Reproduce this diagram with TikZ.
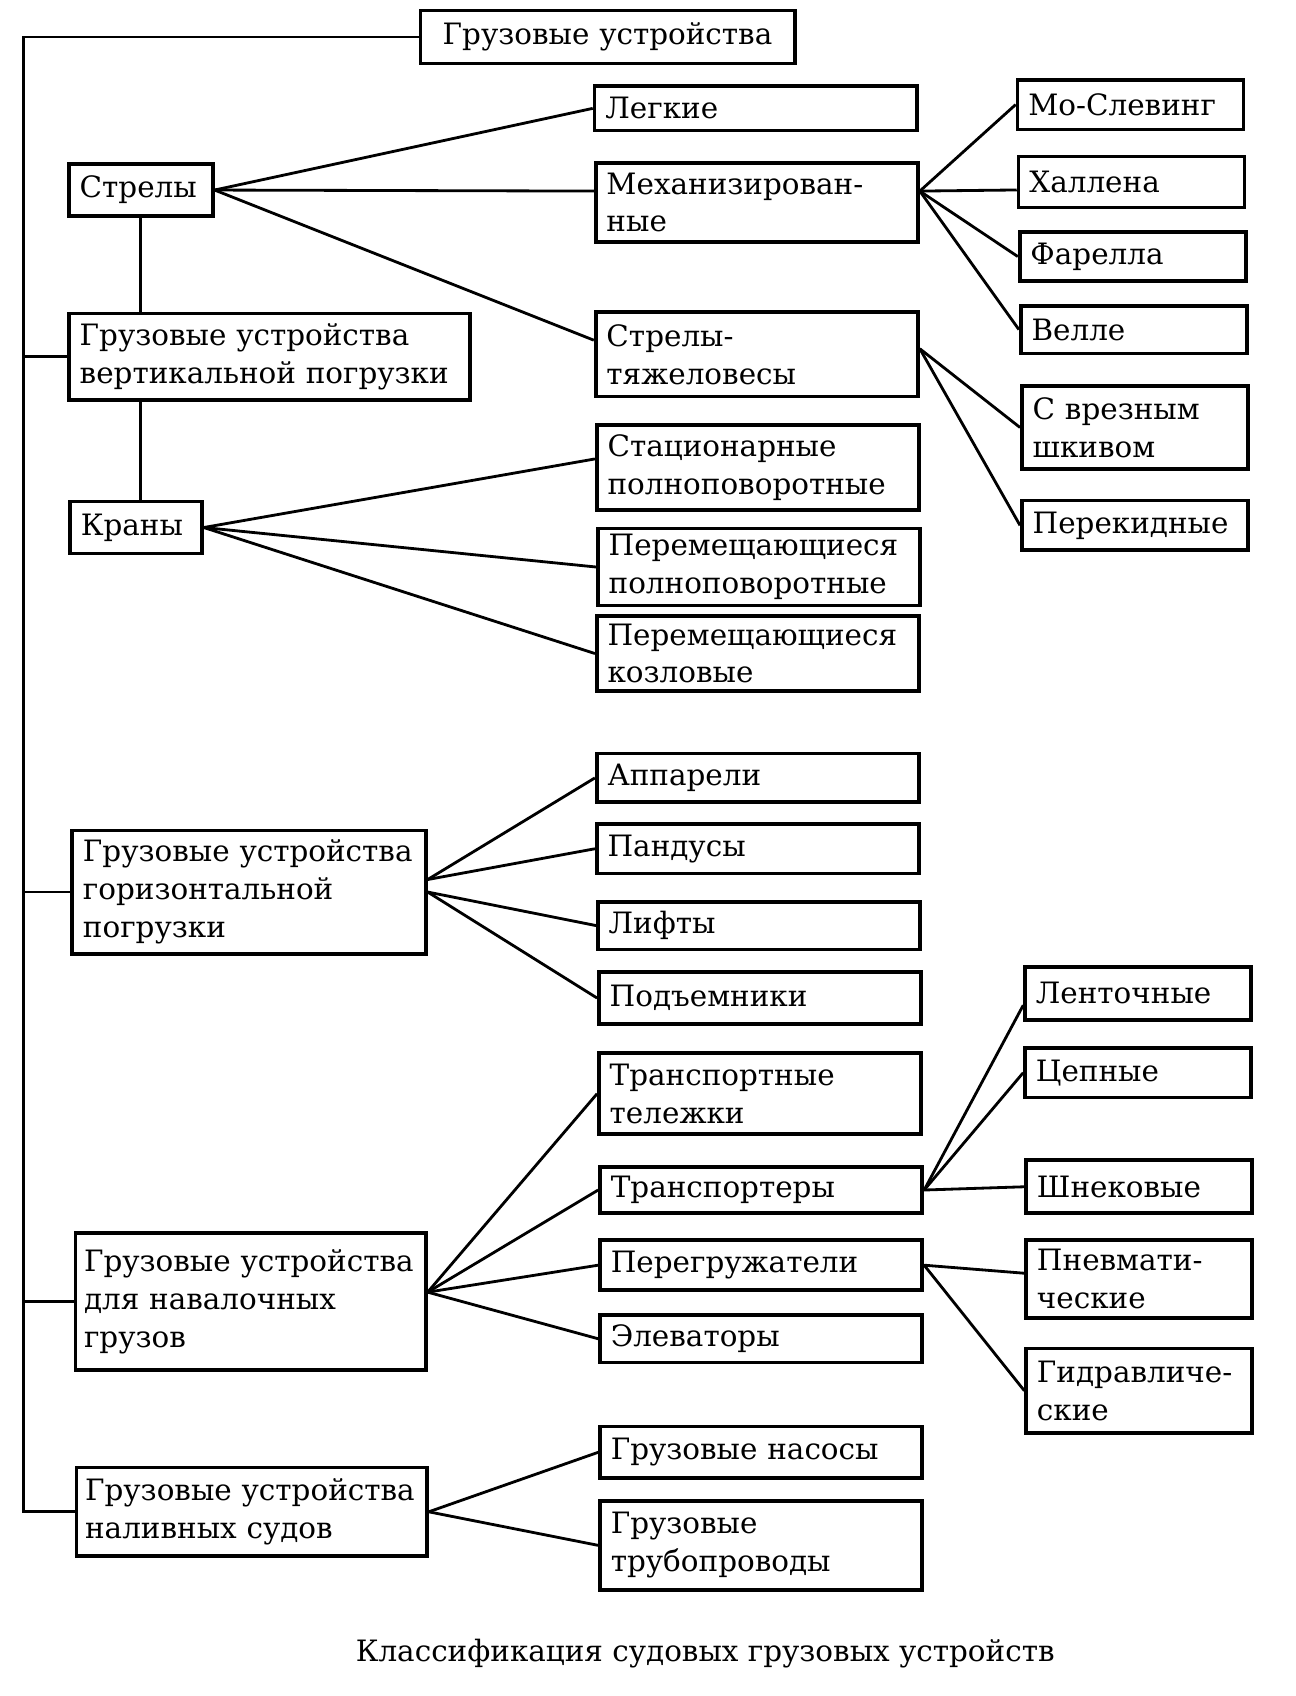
\documentclass[tikz,border=0pt]{standalone}
\usepackage{fontspec}
\setmainfont{DejaVu Serif}

\begin{document}
\begin{tikzpicture}[x=0.5pt,y=-0.5pt,
  box/.style={draw,line width=1.7pt,fill=white,anchor=north west,align=left,
    inner xsep=5pt,inner ysep=2pt,font=\fontsize{13.6}{17.5}\selectfont},
  midbox/.style={box,text width=139pt},
  rbox/.style={box,text width=94.5pt},
  link/.style={line width=1.3pt}]
  \useasboundingbox (0,0) rectangle (1198,1568);
  % левая колонка
  \node[box,align=center,text width=163pt,minimum height=24.5pt] (root) at (387,8) {Грузовые устройства};
  \node[box,text width=56.5pt,minimum height=24pt] (strely) at (62,150) {Стрелы};
  \node[box,text width=175.5pt,minimum height=40pt] (vert) at (62,288) {Грузовые устройства\\вертикальной погрузки};
  \node[box,text width=51pt,minimum height=24pt] (kran) at (63,462) {Краны};
  \node[box,text width=153.5pt,minimum height=57pt] (horiz) at (65,766) {Грузовые устройства\\горизонтальной\\погрузки};
  \node[box,inner xsep=4pt,text width=154pt,minimum height=63.5pt] (naval) at (68,1138) {Грузовые устройства\\для навалочных\\грузов};
  \node[box,inner xsep=4pt,text width=154pt,minimum height=41pt] (tank) at (69,1355) {Грузовые устройства\\наливных судов};
  % средняя колонка
  \node[midbox,minimum height=20.5pt] (legk) at (548,78) {Легкие};
  \node[midbox,minimum height=36.5pt] (mech) at (549,149) {Механизирован-\\ные};
  \node[midbox,minimum height=39pt] (tyazh) at (549,287) {Стрелы-\\тяжеловесы};
  \node[midbox,minimum height=39.5pt] (stac) at (550,391) {Стационарные\\полноповоротные};
  \node[midbox,minimum height=35.5pt] (permpol) at (551,487) {Перемещающиеся\\полноповоротные};
  \node[midbox,minimum height=34.5pt] (kozl) at (550,568) {Перемещающиеся\\козловые};
  \node[midbox,minimum height=22.5pt] (appar) at (550,695) {Аппарели};
  \node[midbox,minimum height=23pt] (pand) at (550,760) {Пандусы};
  \node[midbox,minimum height=22pt] (lift) at (551,832) {Лифты};
  \node[midbox,minimum height=24pt] (podem) at (552,897) {Подъемники};
  \node[midbox,minimum height=37.5pt] (telezh) at (552,972) {Транспортные\\тележки};
  \node[midbox,minimum height=21.5pt] (transp) at (553,1077) {Транспортеры};
  \node[midbox,minimum height=23pt] (pereg) at (553,1145) {Перегружатели};
  \node[midbox,minimum height=22pt] (elev) at (553,1214) {Элеваторы};
  \node[midbox,minimum height=24pt] (nasos) at (553,1317) {Грузовые насосы};
  \node[midbox,minimum height=41pt] (trub) at (553,1386) {Грузовые\\трубопроводы};
  % правая колонка
  \node[rbox,minimum height=23pt] (moslev) at (939,72) {Мо-Слевинг};
  \node[rbox,minimum height=23.5pt] (hallen) at (940,143) {Халлена};
  \node[rbox,minimum height=22.5pt] (farel) at (941,213) {Фарелла};
  \node[rbox,minimum height=22pt] (velle) at (942,281) {Велле};
  \node[rbox,minimum height=38.5pt] (vrez) at (943,355) {С врезным\\шкивом};
  \node[rbox,minimum height=23pt] (perek) at (943,461) {Перекидные};
  \node[rbox,minimum height=24.5pt] (lent) at (946,892) {Ленточные};
  \node[rbox,minimum height=23pt] (cepn) at (946,967) {Цепные};
  \node[rbox,minimum height=24.5pt] (shnek) at (947,1071) {Шнековые};
  \node[rbox,minimum height=36pt] (pnev) at (947,1145) {Пневмати-\\ческие};
  \node[rbox,minimum height=39pt] (gidr) at (947,1245) {Гидравличе-\\ские};
  \node[font=\fontsize{13.6}{17.5}\selectfont] (caption) at (652,1529) {Классификация судовых грузовых устройств};
  % связи
  \draw[link] (root.west) -- ++(-365,0) coordinate (trunk) |- (tank.west);
  \foreach \n in {vert,horiz,naval}
    \draw[link] (trunk |- \n.west) -- (\n.west);
  \draw[link] (strely.south) -- (strely.south |- vert.north);
  \draw[link] (strely.south |- vert.south) -- (strely.south |- kran.north);
  \foreach \t in {legk.west,mech.176,tyazh.175}
    \draw[link] (strely.east) -- (\t);
  \foreach \t in {moslev.west,hallen.184,farel.west,velle.west}
    \draw[link] (mech.4) -- (\t);
  \foreach \t in {vrez.west,perek.west}
    \draw[link] (tyazh.2) -- (\t);
  \foreach \t in {stac.177,permpol.west,kozl.west}
    \draw[link] (kran.east) -- (\t);
  \foreach \t in {appar.west,pand.west}
    \draw[link] (horiz.4) -- (\t);
  \foreach \t in {lift.west,podem.west}
    \draw[link] (horiz.east) -- (\t);
  \foreach \t in {telezh.west,transp.west,pereg.west,elev.west}
    \draw[link] (naval.3) -- (\t);
  \foreach \t in {lent.186,cepn.west,shnek.west}
    \draw[link] (transp.east) -- (\t);
  \foreach \t in {pnev.177,gidr.west}
    \draw[link] (pereg.east) -- (\t);
  \foreach \t in {nasos.west,trub.west}
    \draw[link] (tank.east) -- (\t);
\end{tikzpicture}
\end{document}
